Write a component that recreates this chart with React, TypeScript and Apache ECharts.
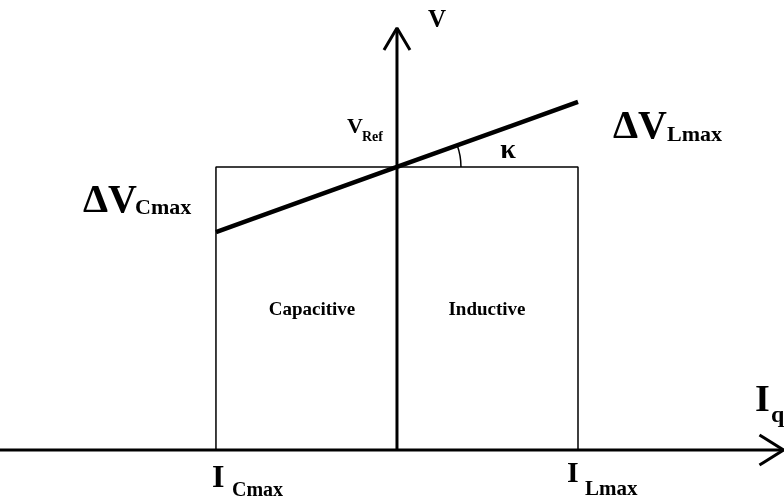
import React, { useEffect, useRef } from "react";
import * as echarts from "echarts";

// Operating limits (per-unit current) and reference voltage
const currentLimits = [-1, 1]; // I_Cmax, I_Lmax
const vRef = 1;
// V-I characteristic with slope κ
const characteristicI = [-1, 0, 1];
const characteristicV = [0.77, 1, 1.23];
// Axis extents (data units)
const iAxisExtent = [-2.193, 2.135];
const vAxisExtent = [0, 1.491];
const iView = [-2.193, 2.138];
const vView = [-0.1767, 1.59];

const W = 784;
const H = 500;
const FONT = "Liberation Serif";

export default function App() {
  const ref = useRef<HTMLDivElement>(null);
  useEffect(() => {
    if (!ref.current) return;
    const chart = echarts.init(ref.current, undefined, { renderer: "svg" });
    const black = "#000";
    const dx = (pxv: number) => (pxv / W) * (iView[1] - iView[0]);
    const dy = (pxv: number) => (pxv / H) * (vView[1] - vView[0]);

    const lineSeries = (name: string, data: number[][], width: number) => ({
      name,
      type: "line",
      data,
      symbol: "none",
      silent: true,
      lineStyle: { color: black, width },
    });

    const txt = (text: string, x: number, y: number, size: number, align = "left") => ({
      type: "text",
      x,
      y,
      style: {
        text,
        fill: black,
        fontFamily: FONT,
        fontSize: size,
        fontWeight: "bold",
        align,
        verticalAlign: "middle",
      },
    });

    const iEnd = iAxisExtent[1];
    const vEnd = vAxisExtent[1];

    chart.setOption({
      animation: false,
      grid: { left: 0, right: 0, top: 0, bottom: 0 },
      xAxis: { type: "value", min: iView[0], max: iView[1], show: false },
      yAxis: { type: "value", min: vView[0], max: vView[1], show: false },
      series: [
        lineSeries("I axis", [[iAxisExtent[0], 0], [iEnd, 0]], 3),
        lineSeries("I arrow", [[iEnd - dx(24), dy(15)], [iEnd, 0], [iEnd - dx(24), -dy(15)]], 3),
        lineSeries("V axis", [[0, vAxisExtent[0]], [0, vEnd]], 3),
        lineSeries("V arrow", [[-dx(13), vEnd - dy(22)], [0, vEnd], [dx(13), vEnd - dy(22)]], 3),
        lineSeries(
          "limits",
          [
            [currentLimits[0], 0],
            [currentLimits[0], vRef],
            [currentLimits[1], vRef],
            [currentLimits[1], 0],
          ],
          1.5
        ),
        lineSeries(
          "characteristic",
          characteristicI.map((i, k) => [i, characteristicV[k]]),
          4.5
        ),
        {
          type: "custom",
          silent: true,
          data: [[0, vRef]],
          renderItem: (_p: any, api: any) => {
            const c = api.coord([0, vRef]);
            const r = api.coord([characteristicI[2], characteristicV[2]]);
            const ang = Math.atan2(r[1] - c[1], r[0] - c[0]);
            return {
              type: "arc",
              shape: { cx: c[0], cy: c[1], r: 64, startAngle: ang, endAngle: 0, clockwise: true },
              style: { stroke: black, lineWidth: 1.5, fill: "none" },
            };
          },
        },
      ],
      graphic: [
        txt("V", 428, 18, 25),
        txt("V", 347, 125, 22),
        txt("Ref", 362, 136, 14),
        txt("ΔV", 613, 124, 40),
        txt("Lmax", 667, 133, 22),
        txt("ΔV", 83, 198, 40),
        txt("Cmax", 135, 206, 22),
        txt("I", 212, 476, 32),
        txt("Cmax", 232, 489, 20),
        txt("I", 567, 471, 30),
        txt("Lmax", 585, 488, 21),
        txt("I", 755, 398, 38),
        txt("q", 771, 414, 24),
        txt("Capacitive", 312, 308, 19, "center"),
        txt("Inductive", 487, 308, 19, "center"),
        txt("κ", 508, 148, 28, "center"),
      ],
    });
    return () => chart.dispose();
  }, []);
  return <div ref={ref} style={{ position: "fixed", left: 0, top: 0, width: W, height: H }} />;
}
